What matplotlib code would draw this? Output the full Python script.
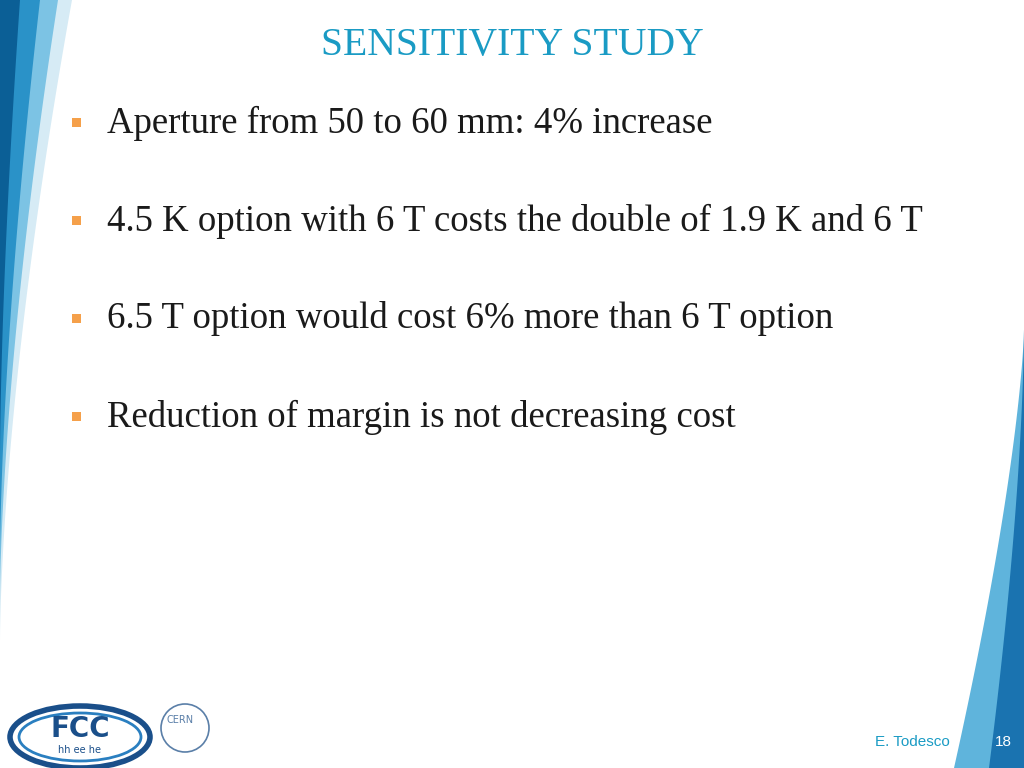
import matplotlib
matplotlib.use("Agg")
import matplotlib.pyplot as plt
from matplotlib.patches import Polygon, Ellipse, Rectangle, Circle
import numpy as np

title = "SENSITIVITY STUDY"
bullets = [
    "Aperture from 50 to 60 mm: 4% increase",
    "4.5 K option with 6 T costs the double of 1.9 K and 6 T",
    "6.5 T option would cost 6% more than 6 T option",
    "Reduction of margin is not decreasing cost",
]
bullet_y = [123, 221, 319, 417]
author = "E. Todesco"
page = "18"

fig = plt.figure(figsize=(10.24, 7.68), dpi=100)
ax = fig.add_axes([0, 0, 1, 1])
ax.set_xlim(0, 1024); ax.set_ylim(768, 0); ax.axis("off")

t = np.linspace(0, 1, 60)
def band(x0, y1, col):
    xs = x0 * (1 - t) ** 1.6
    ys = t * y1
    outer = np.column_stack([np.zeros_like(t), ys])
    inner = np.column_stack([xs, ys])
    return Polygon(np.vstack([outer, inner[::-1]]), closed=True, color=col, lw=0)
ax.add_patch(band(72, 640, "#d6ebf5"))
ax.add_patch(band(58, 600, "#7cc3e4"))
ax.add_patch(band(40, 560, "#2a92c8"))
ax.add_patch(band(20, 460, "#0b5f96"))

ys = np.linspace(330, 768, 50)
s = (ys - 330) / 438
xr1 = 1024 - 70 * s ** 1.4
xr2 = 1024 - 35 * s ** 1.6
ax.add_patch(Polygon(np.vstack([np.column_stack([np.full_like(ys, 1024), ys]), np.column_stack([xr1, ys])[::-1]]), color="#5fb4dc", lw=0))
ax.add_patch(Polygon(np.vstack([np.column_stack([np.full_like(ys, 1024), ys]), np.column_stack([xr2, ys])[::-1]]), color="#1a73b0", lw=0))

ax.text(512, 46, title, ha="center", va="center", fontsize=28.5, color="#1a9bc4", family="Liberation Serif")
for y, b in zip(bullet_y, bullets):
    ax.add_patch(Rectangle((72, y - 5), 9, 9, color="#f5a04a", lw=0))
    ax.text(107, y, b, ha="left", va="center", fontsize=26.5, color="#1a1a1a", family="Liberation Serif")

ax.add_patch(Ellipse((80, 737), 140, 62, fc="white", ec="#1a4f8a", lw=4))
ax.add_patch(Ellipse((80, 737), 122, 48, fc="white", ec="#2a7fc0", lw=2))
ax.text(80, 729, "FCC", ha="center", va="center", fontsize=20, color="#1a4f8a", fontweight="bold")
ax.text(80, 750, "hh ee he", ha="center", va="center", fontsize=7, color="#1a4f8a")
ax.add_patch(Circle((185, 728), 24, fc="none", ec="#5a7fa8", lw=1.2))
ax.text(180, 720, "CERN", ha="center", va="center", fontsize=7, color="#5a7fa8")

ax.text(912, 742, author, ha="center", va="center", fontsize=11, color="#1a9bc4", family="Liberation Sans")
ax.text(1003, 742, page, ha="center", va="center", fontsize=11, color="white", family="Liberation Sans")

fig.savefig("out.png", dpi=100)
